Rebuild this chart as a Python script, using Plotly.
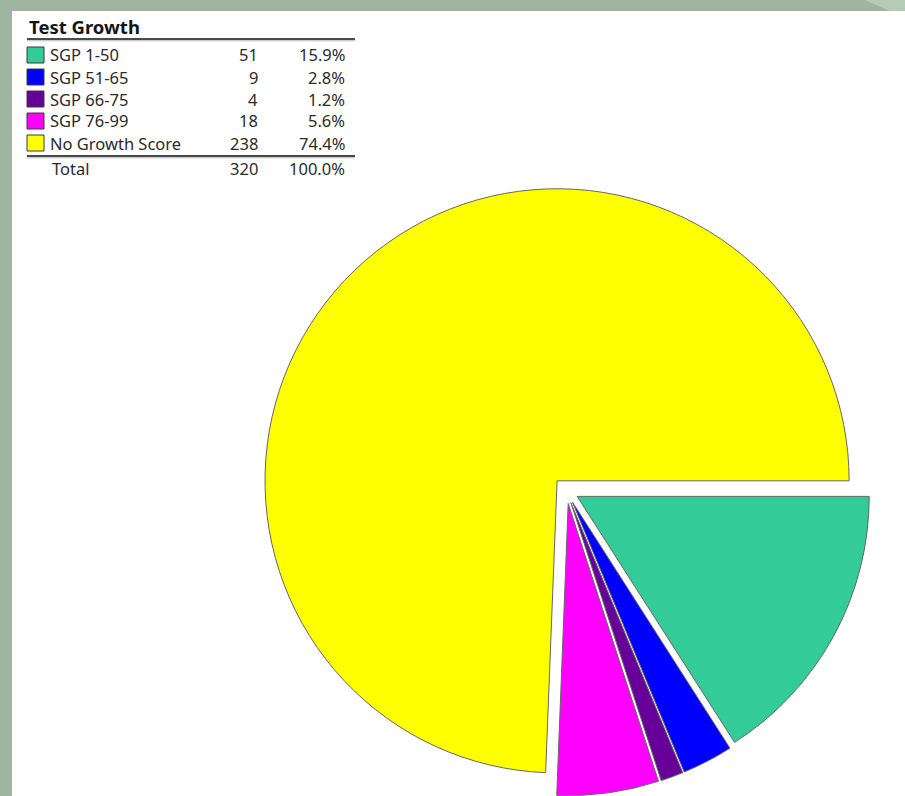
import plotly.graph_objects as go

# ---- data ----
categories = ["SGP 1-50", "SGP 51-65", "SGP 66-75", "SGP 76-99", "No Growth Score"]
counts = [51, 9, 4, 18, 238]
percent_labels = ["15.9%", "2.8%", "1.2%", "5.6%", "74.4%"]
total_count = 320
total_percent = "100.0%"
title_text = "Test Growth"

colors = ["#33CC99", "#0000FF", "#660099", "#FF00FF", "#FFFF00"]
pulls = [0.042, 0.045, 0.045, 0.045, 0.046]

W, H = 905, 796
BG_GREEN = "#a0b59f"
BG_LIGHT = "#b7cab5"


def px(x):
    return x / W


def py(y):
    return 1 - y / H


fig = go.Figure()

# pie geometry (pixels)
cx, cy = 566.4, 490.5
box_h = 2 * (H - cy)
fig.add_trace(go.Pie(
    labels=categories,
    values=counts,
    sort=False,
    direction="clockwise",
    rotation=90,
    pull=pulls,
    marker=dict(colors=colors, line=dict(color="#666666", width=1)),
    textinfo="none",
    hoverinfo="label+value+percent",
    showlegend=False,
    domain=dict(x=[px(cx - box_h / 2), px(cx + box_h / 2)], y=[0, py(cy - box_h / 2)]),
))

shapes = []
# white panel
shapes.append(dict(type="rect", xref="paper", yref="paper", x0=px(12), x1=1, y0=0, y1=py(11),
                   fillcolor="white", line=dict(width=0), layer="below"))
# lighter diagonal band top-right
shapes.append(dict(type="path", xref="paper", yref="paper",
                   path=f"M {px(865)} 1 L 1 1 L 1 {py(11)} L {px(890)} {py(11)} Z",
                   fillcolor=BG_LIGHT, line=dict(width=0), layer="below"))

# table rules
for yline in (39, 156):
    shapes.append(dict(type="line", xref="paper", yref="paper", x0=px(27), x1=px(355),
                       y0=py(yline), y1=py(yline), line=dict(color="#4a4a4a", width=2)))
    shapes.append(dict(type="line", xref="paper", yref="paper", x0=px(27), x1=px(355),
                       y0=py(yline + 1.8), y1=py(yline + 1.8), line=dict(color="#b8b8b8", width=1)))

annotations = []
font_family = "Noto Sans, DejaVu Sans, sans-serif"
txt_color = "#2b2b2b"
fs = 16.5
annotations.append(dict(x=px(27), y=py(27), xref="paper", yref="paper", text=f"<b>{title_text}</b>",
                        showarrow=False, xanchor="left", yanchor="middle",
                        font=dict(family=font_family, size=18.5, color="#151515")))

row_y0, row_step = 55, 22
for i, (cat, cnt, pct, col) in enumerate(zip(categories, counts, percent_labels, colors)):
    yc = row_y0 + i * row_step
    shapes.append(dict(type="rect", xref="paper", yref="paper", x0=px(27), x1=px(44),
                       y0=py(yc + 8), y1=py(yc - 8), fillcolor=col,
                       line=dict(color="#3a3a3a", width=1)))
    annotations.append(dict(x=px(48), y=py(yc), xref="paper", yref="paper", text=cat,
                            showarrow=False, xanchor="left", yanchor="middle",
                            font=dict(family=font_family, size=fs, color=txt_color)))
    annotations.append(dict(x=px(260), y=py(yc), xref="paper", yref="paper", text=str(cnt),
                            showarrow=False, xanchor="right", yanchor="middle",
                            font=dict(family=font_family, size=fs, color=txt_color)))
    annotations.append(dict(x=px(347), y=py(yc), xref="paper", yref="paper", text=pct,
                            showarrow=False, xanchor="right", yanchor="middle",
                            font=dict(family=font_family, size=fs, color=txt_color)))

yt = 168
annotations.append(dict(x=px(50), y=py(yt), xref="paper", yref="paper", text="Total",
                        showarrow=False, xanchor="left", yanchor="middle",
                        font=dict(family=font_family, size=fs, color=txt_color)))
annotations.append(dict(x=px(260), y=py(yt), xref="paper", yref="paper", text=str(total_count),
                        showarrow=False, xanchor="right", yanchor="middle",
                        font=dict(family=font_family, size=fs, color=txt_color)))
annotations.append(dict(x=px(347), y=py(yt), xref="paper", yref="paper", text=total_percent,
                        showarrow=False, xanchor="right", yanchor="middle",
                        font=dict(family=font_family, size=fs, color=txt_color)))

fig.update_layout(
    width=W, height=H,
    margin=dict(l=0, r=0, t=0, b=0),
    paper_bgcolor=BG_GREEN,
    plot_bgcolor="white",
    shapes=shapes,
    annotations=annotations,
    showlegend=False,
)

fig.write_html("out.html", config={"displayModeBar": False},
               post_script="document.body.style.margin='0';")
